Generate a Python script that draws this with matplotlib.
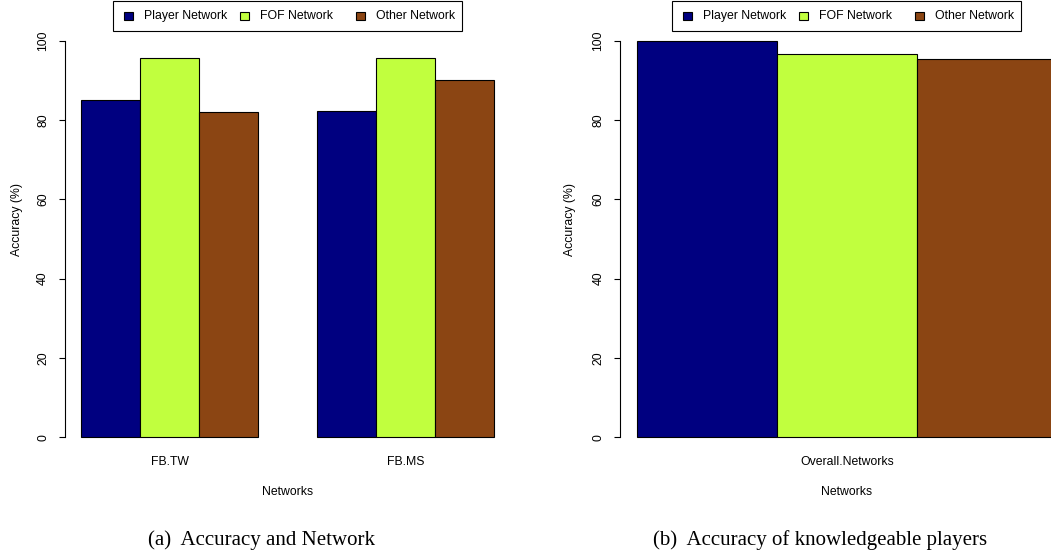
import matplotlib.pyplot as plt
from matplotlib.patches import Rectangle
import numpy as np

plt.rcParams['font.family'] = ['Liberation Sans', 'DejaVu Sans']

series = ['Player Network', 'FOF Network', 'Other Network']
colors = ['#000080', '#C1FF3E', '#8B4513']

groups_a = ['FB.TW', 'FB.MS']
acc_a = np.array([[85.0, 82.2],    # Player
                  [95.6, 95.7],    # FOF
                  [82.0, 90.1]])   # Other

groups_b = ['Overall.Networks']
acc_b = np.array([[100.0], [96.6], [95.4]])

yticks = [0, 20, 40, 60, 80, 100]

W, H = 1051, 556
FS = 8.8
fig = plt.figure(figsize=(W / 100, H / 100), dpi=100)


def px_axes(x0, x1, y_top, y_bot):
    return fig.add_axes([x0 / W, 1 - y_bot / H, (x1 - x0) / W, (y_bot - y_top) / H])


def r_barplot(ax, vals, groups):
    nser, ngrp = vals.shape
    centers = []
    for g in range(ngrp):
        start = 1 + g * (nser + 1)
        for s in range(nser):
            ax.bar(start + s, vals[s, g], width=1, align='edge', color=colors[s],
                   edgecolor='black', linewidth=0.8)
        centers.append(start + nser / 2)
    xmax = ngrp * (nser + 1)
    ext = 0.04 * (xmax - 1)
    ax.set_xlim(1 - ext, xmax + ext)
    ax.set_ylim(-4, 104)
    for sp in ['top', 'right', 'bottom']:
        ax.spines[sp].set_visible(False)
    ax.spines['left'].set_bounds(0, 100)
    ax.spines['left'].set_linewidth(0.8)
    ax.set_yticks(yticks)
    ax.set_yticklabels([str(t) for t in yticks], rotation=90, va='center', fontsize=FS)
    ax.tick_params(axis='y', length=4.6, width=0.8, pad=6.5)
    ax.set_xticks(centers)
    ax.set_xticklabels(groups, fontsize=FS)
    ax.tick_params(axis='x', length=0, pad=2)
    ax.set_xlabel('Networks', fontsize=FS, labelpad=13)


def r_legend(cx):
    bw, top, bot = 349, 1.0, 30.7
    x0 = cx - bw / 2
    fig.patches.append(Rectangle((x0 / W, 1 - bot / H), bw / W, (bot - top) / H,
                                 transform=fig.transFigure, facecolor='white',
                                 edgecolor='black', linewidth=0.8))
    for i, (lab, c) in enumerate(zip(series, colors)):
        mx = x0 + 11 + 116 * i
        fig.patches.append(Rectangle((mx / W, 1 - 20.2 / H), 9 / W, 8 / H,
                                     transform=fig.transFigure, facecolor=c,
                                     edgecolor='black', linewidth=0.8))
        fig.text((mx + 20) / W, 1 - 15.8 / H, lab, ha='left', va='center', fontsize=FS)


ax1 = px_axes(64.5, 510.5, 24.8, 453.0)
r_barplot(ax1, acc_a, groups_a)

ax2 = px_axes(620.0, 1073.6, 24.8, 453.0)
r_barplot(ax2, acc_b, groups_b)

for x in [16.7, 570.5]:
    fig.text(x / W, 1 - 219 / H, 'Accuracy (%)', rotation=90, ha='center', va='center',
             fontsize=FS)

r_legend(287.5)
r_legend(846.5)

fig.text(261 / W, 1 - 540 / H, '(a)  Accuracy and Network', ha='center', va='center',
         fontsize=15, family='Liberation Serif')
fig.text(820 / W, 1 - 540 / H, '(b)  Accuracy of knowledgeable players', ha='center',
         va='center', fontsize=15, family='Liberation Serif')

fig.savefig('out.png', dpi=100)
